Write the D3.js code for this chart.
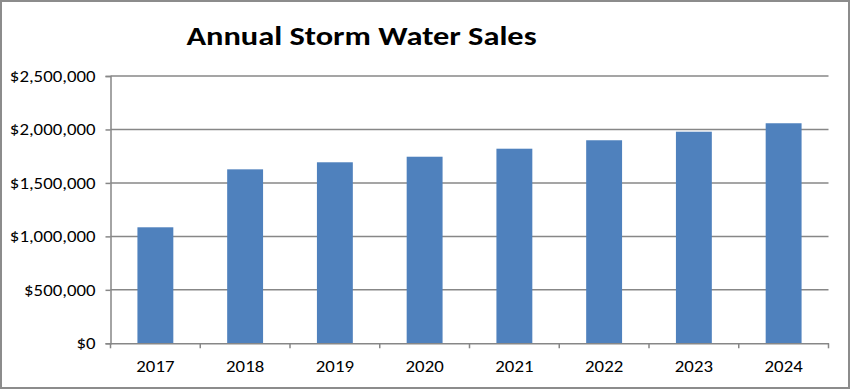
<!DOCTYPE html>
<html><head><meta charset="utf-8">
<script src="https://cdn.jsdelivr.net/npm/d3@7"></script>
<style>
html,body{margin:0;padding:0;background:#fff;}
svg{display:block;}
</style></head>
<body>
<svg id="chart" width="850" height="389"></svg>
<script>
const title = "Annual Storm Water Sales";
const years = ["2017","2018","2019","2020","2021","2022","2023","2024"];
const sales = [1085000, 1627000, 1693000, 1745000, 1820000, 1899000, 1979000, 2058000];
const yTicks = [0, 500000, 1000000, 1500000, 2000000, 2500000];

const svg = d3.select("#chart");
const W = 850, H = 389;
const m = {left: 110.5, right: 21.5, top: 76, bottom: 45.7};

svg.append("rect").attr("x",1).attr("y",1).attr("width",W-2).attr("height",H-2)
  .attr("fill","#fff").attr("stroke","#8c8c8c").attr("stroke-width",2);

const x = d3.scaleBand().domain(years).range([m.left, W - m.right]).paddingInner(0.6).paddingOuter(0.3);
const y = d3.scaleLinear().domain([0, 2500000]).range([H - m.bottom, m.top]);

const fmt = d => "$" + d3.format(",")(d);
const font = "Calibri, Carlito, 'Liberation Sans Narrow', 'Open Sans', sans-serif";
const stretch = 1.14;

// gridlines
svg.append("g").selectAll("line").data(yTicks.filter(d=>d>0)).join("line")
  .attr("x1", m.left).attr("x2", W - m.right)
  .attr("y1", d => y(d)).attr("y2", d => y(d))
  .attr("stroke", "#878787").attr("stroke-width", 1.5);

// bars
svg.append("g").selectAll("rect").data(years).join("rect")
  .attr("x", (d) => x(d)).attr("width", x.bandwidth())
  .attr("y", (d,i) => y(sales[i])).attr("height", (d,i) => y(0) - y(sales[i]))
  .attr("fill", "#4f81bd");

// y axis
const ya = svg.append("g").attr("transform", `translate(${m.left},0)`)
  .call(d3.axisLeft(y).tickValues(yTicks).tickFormat(fmt).tickSize(5).tickPadding(10));
ya.select(".domain").attr("stroke","#878787").attr("stroke-width",1.5);
ya.selectAll(".tick line").attr("stroke","#878787").attr("stroke-width",1.5);
ya.selectAll("text").attr("font-family", font).attr("font-size", 16.5).attr("fill","#000")
  .attr("x", 0).attr("transform", `translate(-15,0) scale(${stretch},1)`);

// x axis
const xBand = d3.scaleBand().domain(years).range([m.left, W - m.right]);
const xa = svg.append("g").attr("transform", `translate(0,${y(0)})`)
  .call(d3.axisBottom(xBand).tickSize(0).tickPadding(17));
xa.select(".domain").attr("stroke","#878787").attr("stroke-width",1.5);
xa.selectAll("text").attr("font-family", font).attr("font-size", 16.5).attr("fill","#000")
  .attr("transform", `scale(${stretch},1)`);
// category boundary ticks
svg.append("g").selectAll("line").data(years.concat(["end"])).join("line")
  .attr("x1", (d,i) => m.left + i * xBand.step()).attr("x2", (d,i) => m.left + i * xBand.step())
  .attr("y1", y(0)).attr("y2", y(0) + 5)
  .attr("stroke","#878787").attr("stroke-width",1.5);

svg.append("text").text(title)
  .attr("x", 0).attr("y", 0).attr("text-anchor","middle")
  .attr("transform", "translate(361.5,45) scale(1.2,1)")
  .attr("font-family", "Calibri, Carlito, 'Open Sans', Lato, sans-serif")
  .attr("font-weight","bold").attr("font-size", 27).attr("fill","#000");
</script>
</body></html>
